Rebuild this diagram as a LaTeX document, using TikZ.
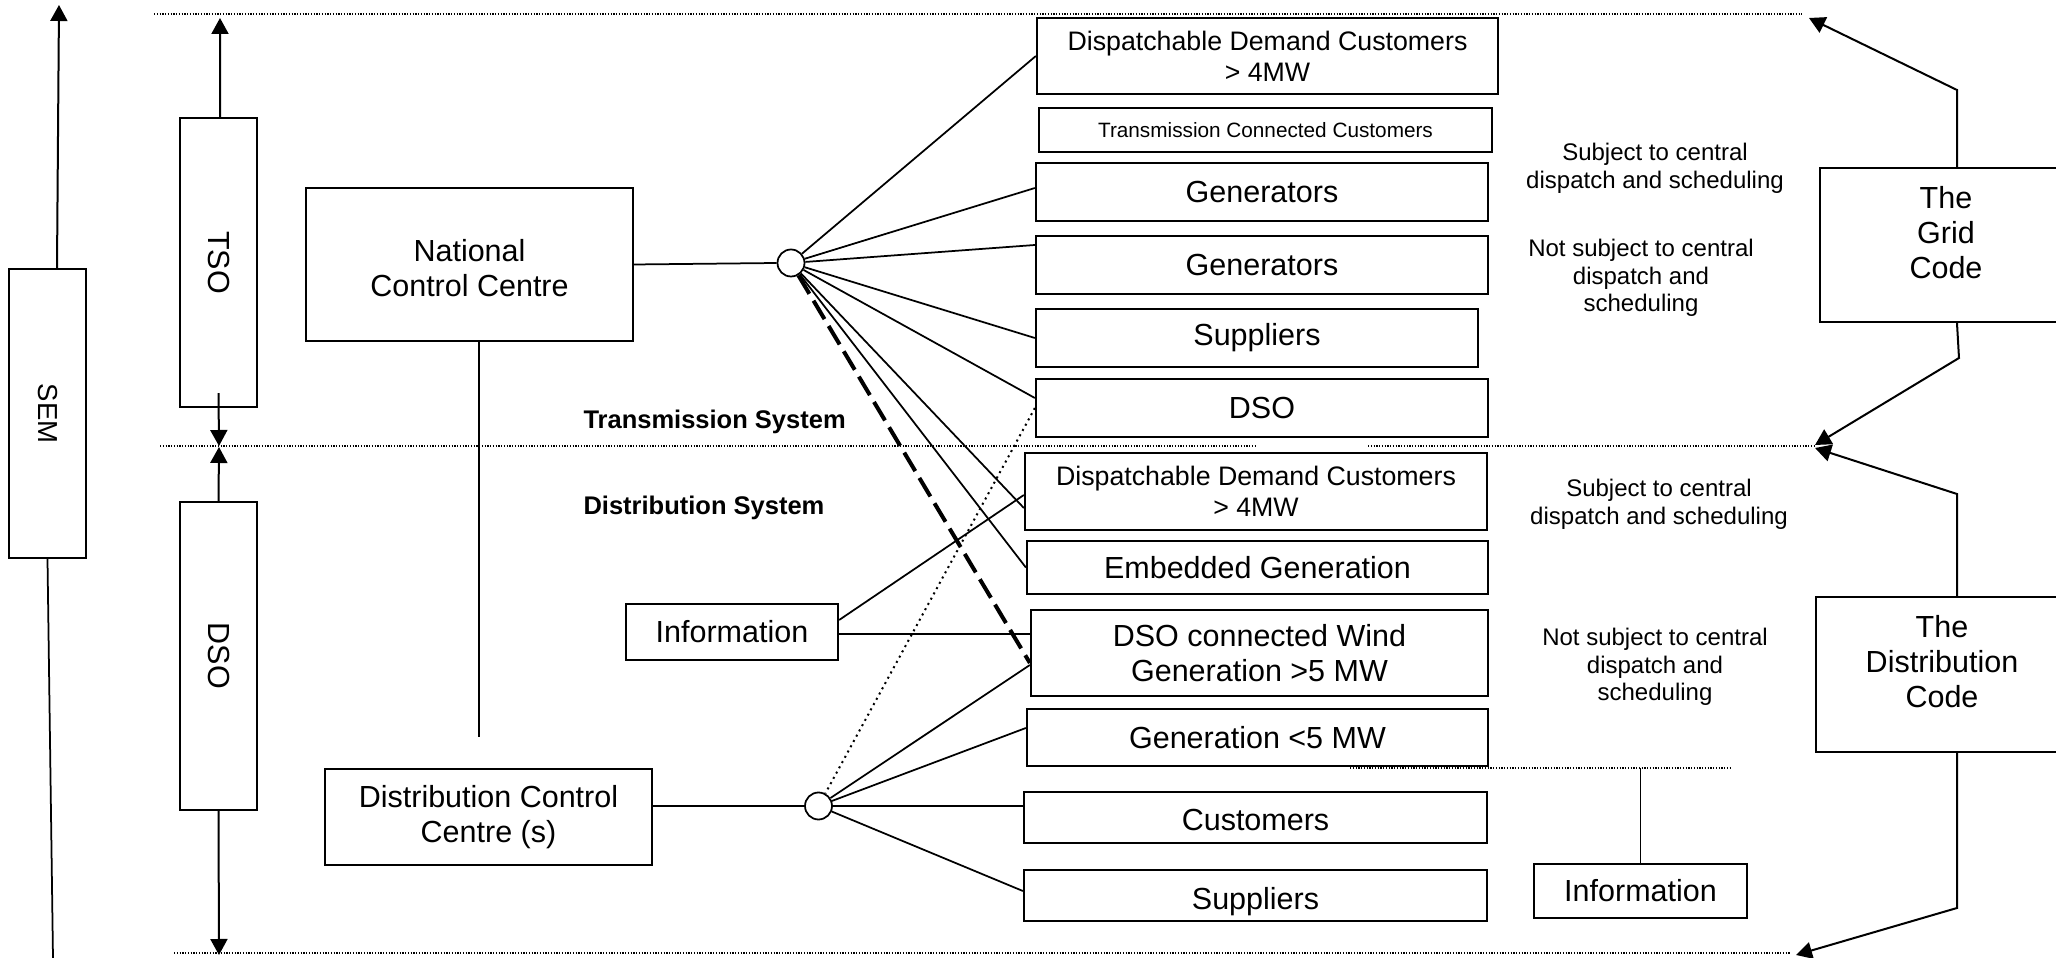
\documentclass[tikz,border=0pt]{standalone}
\usepackage{fontspec}
\setmainfont{Liberation Sans}
\usetikzlibrary{arrows.meta,calc}
\newcommand\fmain{\fontsize{12.2}{14}\selectfont}
\newcommand\fddc{\fontsize{10.7}{12.3}\selectfont}
\newcommand\ftcc{\fontsize{8.3}{9.6}\selectfont}
\newcommand\fsubj{\fontsize{9.6}{11.1}\selectfont}
\newcommand\fbld{\fontsize{10.2}{12}\selectfont\bfseries}
\newcommand\fsem{\fontsize{11}{13}\selectfont}
\begin{document}
\begin{tikzpicture}[x=0.4pt,y=-0.4pt,
  box/.style={draw, line width=0.9pt, inner sep=0pt, align=center, font=\fmain},
  wh/.style 2 args={minimum width=#1*0.4pt, minimum height=#2*0.4pt},
  txt/.style={inner sep=0pt, align=center},
  ln/.style={line width=0.7pt},
  arr/.style={line width=0.8pt, -{Triangle[length=6.4pt,width=6.8pt]}},
  sep/.style={line width=0.6pt, dash pattern=on 0.5pt off 0.6pt},
  circ/.style={draw, circle, line width=0.7pt, minimum size=10.8pt, inner sep=0pt, fill=white}
]
\useasboundingbox (0,0) rectangle (2056,958);

% separators
\coordinate (t1) at (154,14);  \coordinate (t2) at (1802,14);
\coordinate (m1) at (160,446); \coordinate (m2) at (1256,446);
\coordinate (m3) at (1368,446); \coordinate (m4) at (1815,446);
\coordinate (b1) at (174,953); \coordinate (b2) at (1790,953);
\coordinate (d1) at (1350,768); \coordinate (d2) at (1732,768);
\draw[sep] (t1) -- (t2);
\draw[sep] (m1) -- (m2);
\draw[sep] (m3) -- (m4);
\draw[sep] (b1) -- (b2);
\draw[sep] (d1) -- (d2);

% left vertical boxes
\node[box, wh={77}{289}] (sem) at (47.5,413.5) {};
\node[txt, font=\fsem, rotate=-90] (semt) at (sem) {SEM};
\node[box, wh={77}{289}] (tso) at (218.5,262.5) {};
\node[txt, font=\fmain, rotate=-90] (tsot) at (tso) {TSO};
\node[box, wh={77}{308}] (dsov) at (218.5,656) {};
\node[txt, font=\fmain, rotate=-90] (dsovt) at (dsov) {DSO};

\coordinate (semtop) at (59,5);
\coordinate (sembot) at (53,958);
\coordinate (tsotop) at (220,18);
\coordinate (tsobot) at (219,446);
\coordinate (dsovtop) at (219,447);
\coordinate (dsovbot) at (219,955);
\draw[arr] ([xshift=3.8pt]sem.north) -- (semtop);
\draw[ln] (sem.south) -- (sembot);
\draw[arr] ([xshift=0.6pt]tso.north) -- (tsotop);
\draw[arr] ([yshift=6pt]tso.south) -- (tsobot);
\draw[arr] (dsov.north) -- (dsovtop);
\draw[arr] (dsov.south) -- (dsovbot);

% control centres
\node[box, wh={327}{153}] (ncc) at (469.5,264.5) {};
\node[txt, font=\fmain] (ncct) at (469.5,268) {National\\Control Centre};
\node[box, wh={327}{96}] (dcc) at (488.5,817) {Distribution Control\\Centre (s)};
\coordinate (nccend) at (479,737);
\draw[ln] ([xshift=3.8pt]ncc.south) -- (nccend);

\node[box, wh={212}{56}] (infol) at (732,632) {Information};

% right column boxes
\node[box, wh={461}{76}, font=\fddc] (ddc1) at (1267.5,56) {Dispatchable Demand Customers\\> 4MW};
\node[box, wh={453}{44}, font=\ftcc] (tcc) at (1265.5,130) {Transmission Connected Customers};
\node[box, wh={452}{58}] (gen1) at (1262,192) {Generators};
\node[box, wh={452}{58}] (gen2) at (1262,265) {Generators};
\node[box, wh={442}{58}] (sup1) at (1257,338) {Suppliers};
\node[box, wh={452}{58}] (dsob) at (1262,408) {DSO};
\node[box, wh={462}{77}, font=\fddc] (ddc2) at (1256,491.5) {Dispatchable Demand Customers\\> 4MW};
\node[box, wh={461}{53}] (embg) at (1257.5,567.5) {Embedded Generation};
\node[box, wh={457}{86}] (wind) at (1259.5,653) {DSO connected Wind\\Generation >5 MW};
\node[box, wh={461}{57}] (gen5) at (1257.5,737.5) {Generation <5 MW};
\node[box, wh={463}{51}] (cust) at (1255.5,817.5) {};
\node[txt, font=\fmain, anchor=base] (custt) at (1255.5,831) {Customers};
\node[box, wh={463}{51}] (sup2) at (1255.5,895.5) {};
\node[txt, font=\fmain, anchor=base] (sup2t) at (1255.5,910) {Suppliers};

\node[box, wh={213}{54}] (infor) at (1640.5,891) {Information};
\draw[ln] (infor.north |- d1) -- (infor.north);

% hubs
\node[circ] (c1) at (791,263) {};
\node[circ] (c2) at (818.5,806) {};

\draw[ln] (ncc.east) -- (c1.west);
\draw[ln] (dcc.east |- c2) -- (c2.west);

\draw[ln] (c1) -- (ddc1.west);
\draw[ln] (c1) -- ([yshift=1.6pt]gen1.west);
\draw[ln] (c1) -- ([yshift=8pt]gen2.west);
\draw[ln] (c1) -- (sup1.west);
\draw[ln] (c1) -- ([yshift=4pt]dsob.west);
\draw[ln] (c1) -- ([yshift=-6.6pt]ddc2.west);
\draw[ln] (c1) -- (embg.west);
\draw[line width=1.6pt, dash pattern=on 8.6pt off 3.2pt] (c1) -- ([yshift=-4pt]wind.west);
\draw[line width=0.8pt, dash pattern=on 0.8pt off 1.6pt] (dsob.west) -- (c2);

\draw[ln] ([yshift=4.8pt]infol.east) -- ([yshift=-1.4pt]ddc2.west);
\draw[ln] ([yshift=-0.8pt]infol.east) -- ([yshift=-0.8pt]infol.east -| wind.west);

\draw[ln] (c2) -- ([yshift=-4.8pt]wind.west);
\draw[ln] (c2) -- ([yshift=3.8pt]gen5.west);
\draw[ln] (c2.east) -- (c2 -| cust.west);
\draw[ln] (c2) -- ([yshift=1.8pt]sup2.west);

% labels
\node[txt, font=\fbld, anchor=west] (tsys) at (583,422) {Transmission System};
\node[txt, font=\fbld, anchor=west] (dsys) at (583,508) {Distribution System};
\node[txt, font=\fsubj] (subj1) at (1655,168) {Subject to central\\dispatch and scheduling};
\node[txt, font=\fsubj] (nsubj1) at (1641,278) {Not subject to central\\dispatch and\\scheduling};
\node[txt, font=\fsubj] (subj2) at (1659,504) {Subject to central\\dispatch and scheduling};
\node[txt, font=\fsubj] (nsubj2) at (1655,667) {Not subject to central\\dispatch and\\scheduling};

% codes
\node[box, wh={252}{154}] (grid) at (1946,245) {};
\node[txt, font=\fmain] (gridt) at (1946,233) {The\\Grid\\Code};
\node[box, wh={252}{155}] (distc) at (1942,674.5) {};
\node[txt, font=\fmain] (distct) at (1942,662) {The\\Distribution\\Code};

\coordinate (g1) at (1957,90);   \coordinate (g1tip) at (1809,18);
\coordinate (g2) at (1959,358);  \coordinate (g2tip) at (1815,445);
\coordinate (h1) at (1957,494);  \coordinate (h1tip) at (1815,448);
\coordinate (h2) at (1957,908);  \coordinate (h2tip) at (1796,955);
\draw[arr] ([xshift=4.4pt]grid.north) -- (g1) -- (g1tip);
\draw[arr] ([xshift=4.4pt]grid.south) -- (g2) -- (g2tip);
\draw[arr] ([xshift=6pt]distc.north) -- (h1) -- (h1tip);
\draw[arr] ([xshift=6pt]distc.south) -- (h2) -- (h2tip);
\end{tikzpicture}
\end{document}
